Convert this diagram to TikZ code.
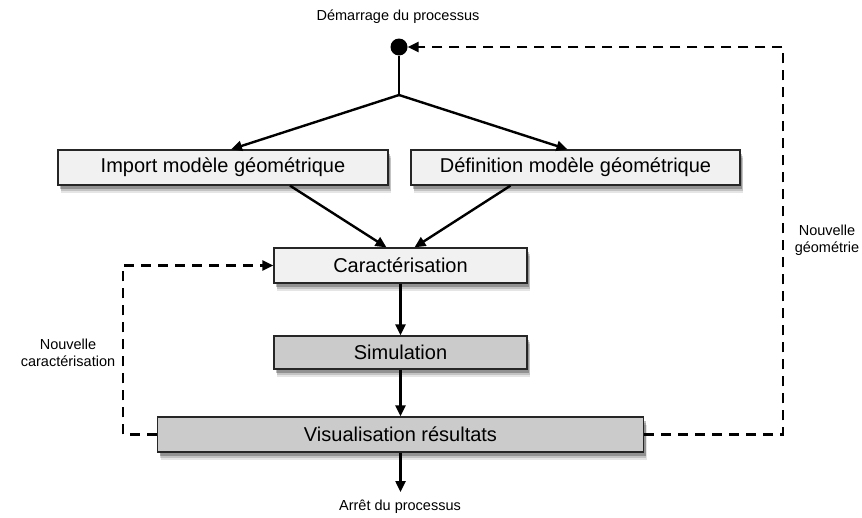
\documentclass[tikz,border=0pt]{standalone}
\usepackage{fontspec}
\setmainfont{Liberation Sans}
\usetikzlibrary{arrows.meta,shadows}
\definecolor{lightbox}{HTML}{F1F1F1}
\definecolor{darkbox}{HTML}{CBCBCB}
\begin{document}
\begin{tikzpicture}[x=1pt,y=-1pt,
  softshadow/.style={
    drop shadow={shadow xshift=3pt,shadow yshift=-8pt,fill=black,opacity=0.10},
    drop shadow={shadow xshift=2.5pt,shadow yshift=-6pt,fill=black,opacity=0.15},
    drop shadow={shadow xshift=2pt,shadow yshift=-4pt,fill=black,opacity=0.25}},
  box/.style={draw=black!85, line width=1.3pt, inner sep=0pt,
    font=\fontsize{20}{24}\selectfont, softshadow},
  lbl/.style={font=\fontsize{14.5}{17}\selectfont, align=center, inner sep=0pt},
  conn/.style={line width=2.4pt},
  arr/.style={line width=2.4pt, -{Triangle[length=11pt,width=10pt]}},
  dasharr/.style={line width=2.4pt, dash pattern=on 10pt off 7pt, -{Triangle[length=11pt,width=10pt]}}]
\useasboundingbox (0,0) rectangle (862,517);
% nodes
\node[circle, fill=black, minimum size=17pt, inner sep=0pt] (start) at (399,47) {};
\node[lbl] (startlbl) at (398,17) {Démarrage du processus};
\coordinate (jn) at (399,95);
\node[box, fill=lightbox, minimum width=330pt, minimum height=35pt] (imp) at (223,167.5) {Import modèle géométrique};
\node[box, fill=lightbox, minimum width=329pt, minimum height=35pt] (def) at (575.5,167.5) {Définition modèle géométrique};
\node[box, fill=lightbox, minimum width=253pt, minimum height=35pt] (car) at (400.5,265.5) {Caractérisation};
\node[box, fill=darkbox, minimum width=253pt, minimum height=33pt] (sim) at (400.5,352.5) {Simulation};
\node[box, fill=darkbox, minimum width=486pt, minimum height=35pt] (vis) at (400.5,434.5) {Visualisation résultats};
\coordinate (stop) at (400.5,492);
\node[lbl] (stoplbl) at (400,507) {Arrêt du processus};
\coordinate (lc) at (123,350);
\coordinate (rc) at (783,240);
\node[lbl] (ncar) at (68,353) {Nouvelle\\caractérisation};
\node[lbl] (ngeo) at (827,240) {Nouvelle\\géométrie};
% connectors
\draw[conn] (start.south) -- (jn);
\draw[arr] (jn) -- ([xshift=8pt]imp.north);
\draw[arr] (jn) -- ([xshift=-8pt]def.north);
\draw[arr] ([xshift=67pt]imp.south) -- ([xshift=-14pt]car.north);
\draw[arr] ([xshift=-65pt]def.south) -- ([xshift=14pt]car.north);
\draw[arr] (car.south) -- (sim.north);
\draw[arr] (sim.south) -- (vis.north);
\draw[arr] (vis.south) -- (stop);
\draw[dasharr] (vis.west) -| (lc) |- (car.west);
\draw[dasharr] (vis.east) -| (rc) |- (start.east);
\end{tikzpicture}
\end{document}
